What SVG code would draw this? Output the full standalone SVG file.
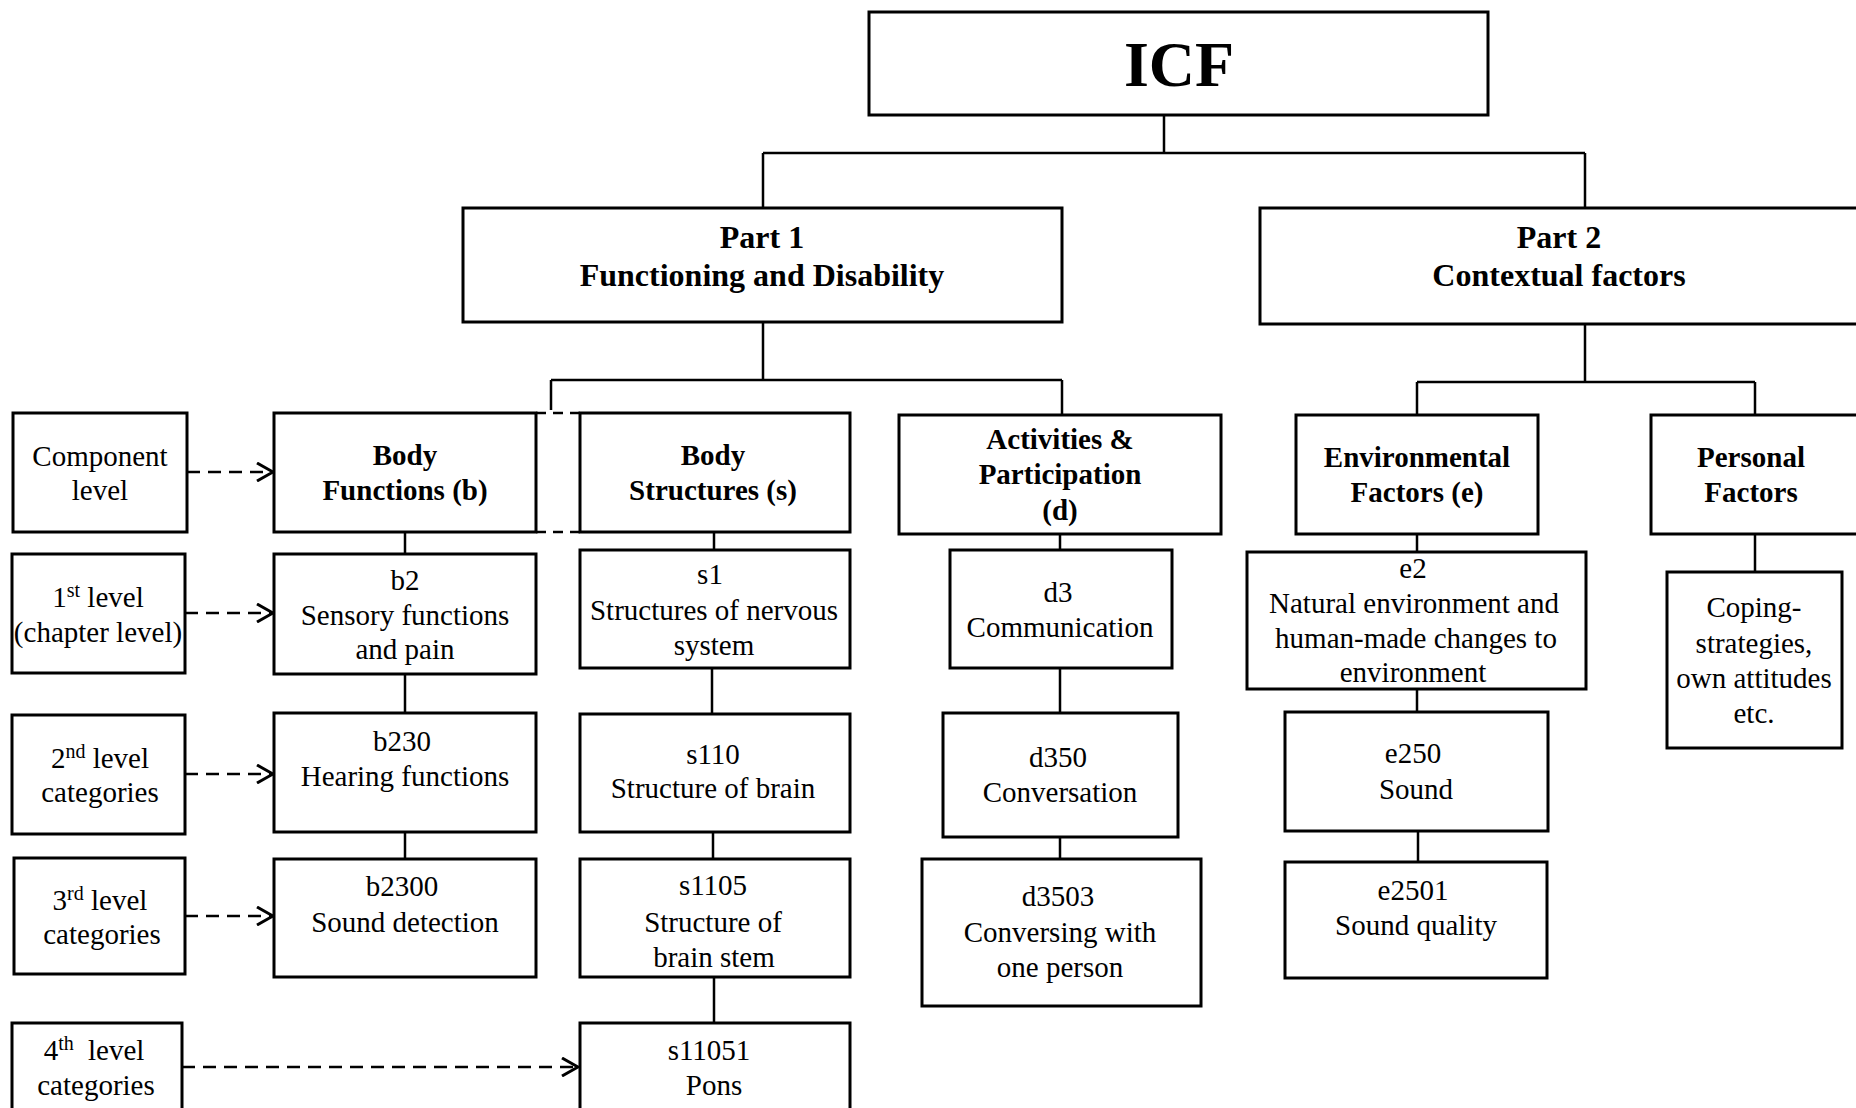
<svg xmlns="http://www.w3.org/2000/svg" width="1856" height="1108" viewBox="0 0 1856 1108">
<style>
.box{fill:#fff;stroke:#000;stroke-width:3}
.ln{stroke:#000;stroke-width:2.5;fill:none}
.dash{stroke:#000;stroke-width:2.5;fill:none;stroke-dasharray:13 8}
.dash2{stroke:#000;stroke-width:2.5;fill:none;stroke-dasharray:10 7}
.t{font-family:"Liberation Serif","Times New Roman",serif;font-size:29px;text-anchor:middle;fill:#000}
.b{font-weight:bold}
.p{font-size:32px;font-weight:bold}
.icf{font-size:64px;font-weight:bold}
.sup{font-size:20px}
</style>
<defs>
<marker id="arr" viewBox="0 0 20 20" refX="18" refY="10" markerWidth="20" markerHeight="20" markerUnits="userSpaceOnUse" orient="auto">
<path d="M2,1 L18,10 L2,19" fill="none" stroke="#000" stroke-width="3" stroke-dasharray="none"/>
</marker>
</defs>
<rect width="1856" height="1108" fill="#fff"/>
<g id="connectors">
<path class="ln" d="M1164,115 V153 M763,153 H1585 M763,153 V208 M1585,153 V208"/>
<path class="ln" d="M763,322 V380 M551,380 H1062 M551,380 V410 M1062,380 V415"/>
<path class="ln" d="M1585,324 V382 M1417,382 H1755 M1417,382 V415 M1755,382 V415"/>
<path class="ln" d="M405,532 V554 M405,674 V713 M405,832 V859"/>
<path class="ln" d="M714,532 V550 M712,668 V714 M713,832 V859 M714,977 V1023"/>
<path class="ln" d="M1060,534 V550 M1060,668 V713 M1060,837 V859"/>
<path class="ln" d="M1417,534 V552 M1417,689 V712 M1418,831 V862 M1755,534 V572"/>
<path class="dash2" d="M536,413 H580 M536,532 H580"/>
<path class="dash" d="M187,472 H273" marker-end="url(#arr)"/>
<path class="dash" d="M185,613 H273" marker-end="url(#arr)"/>
<path class="dash" d="M185,774 H273" marker-end="url(#arr)"/>
<path class="dash" d="M185,916 H273" marker-end="url(#arr)"/>
<path class="dash" d="M182,1067 H578" marker-end="url(#arr)"/>
</g>
<g id="icf"><rect class="box" x="869" y="12" width="619" height="103"/><text class="t icf" x="1179" y="86">ICF</text></g>
<g id="part1"><rect class="box" x="463" y="208" width="599" height="114"/><text class="t p" x="762" y="248">Part 1</text><text class="t p" x="762" y="286">Functioning and Disability</text></g>
<g id="part2"><rect class="box" x="1260" y="208" width="600" height="116"/><text class="t p" x="1559" y="248">Part 2</text><text class="t p" x="1559" y="286">Contextual factors</text></g>
<g id="component-level"><rect class="box" x="13" y="413" width="174" height="119"/><text class="t" x="100" y="466">Component</text><text class="t" x="100" y="500">level</text></g>
<g id="body-functions"><rect class="box" x="274" y="413" width="262" height="119"/><text class="t b" x="405" y="465">Body</text><text class="t b" x="405" y="500">Functions (b)</text></g>
<g id="body-structures"><rect class="box" x="580" y="413" width="270" height="119"/><text class="t b" x="713" y="465">Body</text><text class="t b" x="713" y="500">Structures (s)</text></g>
<g id="activities"><rect class="box" x="899" y="415" width="322" height="119"/><text class="t b" x="1060" y="449">Activities &amp;</text><text class="t b" x="1060" y="484">Participation</text><text class="t b" x="1060" y="520">(d)</text></g>
<g id="environmental"><rect class="box" x="1296" y="415" width="242" height="119"/><text class="t b" x="1417" y="467">Environmental</text><text class="t b" x="1417" y="502">Factors (e)</text></g>
<g id="personal"><rect class="box" x="1651" y="415" width="210" height="119"/><text class="t b" x="1751" y="467">Personal</text><text class="t b" x="1751" y="502">Factors</text></g>
<g id="level1"><rect class="box" x="12" y="554" width="173" height="119"/><text class="t" x="98" y="607">1<tspan class="sup" dy="-10">st</tspan><tspan dy="10"> level</tspan></text><text class="t" x="98" y="642">(chapter level)</text></g>
<g id="b2"><rect class="box" x="274" y="554" width="262" height="120"/><text class="t" x="405" y="590">b2</text><text class="t" x="405" y="625">Sensory functions</text><text class="t" x="405" y="659">and pain</text></g>
<g id="s1"><rect class="box" x="580" y="550" width="270" height="118"/><text class="t" x="710" y="584">s1</text><text class="t" x="714" y="620">Structures of nervous</text><text class="t" x="714" y="655">system</text></g>
<g id="d3"><rect class="box" x="950" y="550" width="222" height="118"/><text class="t" x="1058" y="602">d3</text><text class="t" x="1060" y="637">Communication</text></g>
<g id="e2"><rect class="box" x="1247" y="552" width="339" height="137"/><text class="t" x="1413" y="578">e2</text><text class="t" x="1414" y="613">Natural environment and</text><text class="t" x="1416" y="648">human-made changes to</text><text class="t" x="1413" y="682">environment</text></g>
<g id="coping"><rect class="box" x="1667" y="572" width="175" height="176"/><text class="t" x="1754" y="617">Coping-</text><text class="t" x="1754" y="653">strategies,</text><text class="t" x="1754" y="688">own attitudes</text><text class="t" x="1754" y="723">etc.</text></g>
<g id="level2"><rect class="box" x="12" y="715" width="173" height="119"/><text class="t" x="100" y="768">2<tspan class="sup" dy="-10">nd</tspan><tspan dy="10"> level</tspan></text><text class="t" x="100" y="802">categories</text></g>
<g id="b230"><rect class="box" x="274" y="713" width="262" height="119"/><text class="t" x="402" y="751">b230</text><text class="t" x="405" y="786">Hearing functions</text></g>
<g id="s110"><rect class="box" x="580" y="714" width="270" height="118"/><text class="t" x="713" y="764">s110</text><text class="t" x="713" y="798">Structure of brain</text></g>
<g id="d350"><rect class="box" x="943" y="713" width="235" height="124"/><text class="t" x="1058" y="767">d350</text><text class="t" x="1060" y="802">Conversation</text></g>
<g id="e250"><rect class="box" x="1285" y="712" width="263" height="119"/><text class="t" x="1413" y="763">e250</text><text class="t" x="1416" y="799">Sound</text></g>
<g id="level3"><rect class="box" x="14" y="858" width="171" height="116"/><text class="t" x="100" y="910">3<tspan class="sup" dy="-10">rd</tspan><tspan dy="10"> level</tspan></text><text class="t" x="102" y="944">categories</text></g>
<g id="b2300"><rect class="box" x="274" y="859" width="262" height="118"/><text class="t" x="402" y="896">b2300</text><text class="t" x="405" y="932">Sound detection</text></g>
<g id="s1105"><rect class="box" x="580" y="859" width="270" height="118"/><text class="t" x="713" y="895">s1105</text><text class="t" x="713" y="932">Structure of</text><text class="t" x="714" y="967">brain stem</text></g>
<g id="d3503"><rect class="box" x="922" y="859" width="279" height="147"/><text class="t" x="1058" y="906">d3503</text><text class="t" x="1060" y="942">Conversing with</text><text class="t" x="1060" y="977">one person</text></g>
<g id="e2501"><rect class="box" x="1285" y="862" width="262" height="116"/><text class="t" x="1413" y="900">e2501</text><text class="t" x="1416" y="935">Sound quality</text></g>
<g id="level4"><rect class="box" x="12" y="1023" width="170" height="100"/><text class="t" x="94" y="1060">4<tspan class="sup" dy="-10">th</tspan><tspan dy="10" dx="7"> level</tspan></text><text class="t" x="96" y="1095">categories</text></g>
<g id="s11051"><rect class="box" x="580" y="1023" width="270" height="100"/><text class="t" x="709" y="1060">s11051</text><text class="t" x="714" y="1095">Pons</text></g>
</svg>
